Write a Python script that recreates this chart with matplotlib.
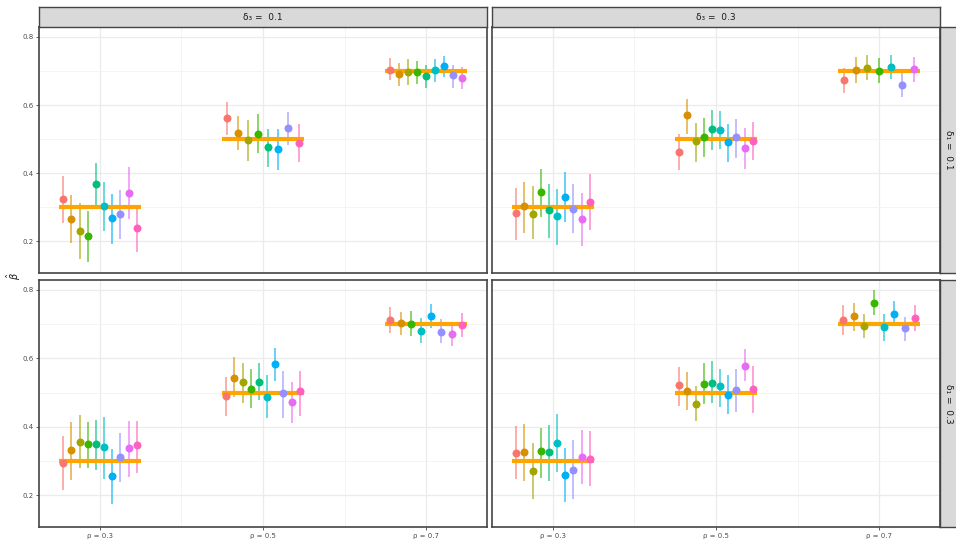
import numpy as np
import matplotlib
matplotlib.use("Agg")
import matplotlib.pyplot as plt
from matplotlib.ticker import FixedLocator

nan = np.nan

# ---------------- data ----------------
rho_labels = ["ρ = 0.3", "ρ = 0.5", "ρ = 0.7"]
true_values = [0.3, 0.5, 0.7]
delta3_labels = ["δ₃ =  0.1", "δ₃ =  0.3"]
delta1_labels = ["δ₁ =  0.1", "δ₁ =  0.3"]
group_colors = ["#F8766D", "#D89000", "#A3A500", "#39B600", "#00BF7D",
                "#00BFC4", "#00B0F6", "#9590FF", "#E76BF3", "#FF62BC"]

# panel delta1 = 0.1, delta3 = 0.1
est_11 = [[0.324, 0.266, 0.229, 0.216, 0.367, 0.304, 0.269, 0.280, 0.343, 0.238],
          [0.562, 0.519, 0.497, 0.515, 0.478, nan, 0.470, 0.534, nan, 0.488],
          [0.703, 0.691, 0.698, 0.696, 0.685, 0.703, 0.714, 0.687, 0.679, nan]]
lo_11 = [[0.254, 0.194, 0.148, 0.139, 0.300, 0.229, 0.192, 0.207, 0.265, 0.170],
         [0.511, 0.467, 0.436, 0.460, 0.418, nan, 0.410, 0.482, nan, 0.433],
         [0.672, 0.657, 0.660, 0.662, 0.651, 0.667, 0.683, 0.651, 0.646, nan]]
hi_11 = [[0.392, 0.336, 0.312, 0.290, 0.431, 0.374, 0.338, 0.351, 0.418, 0.306],
         [0.609, 0.569, 0.557, 0.573, 0.529, nan, 0.531, 0.580, nan, 0.545],
         [0.737, 0.722, 0.734, 0.728, 0.718, 0.736, 0.745, 0.718, 0.711, nan]]

# panel delta1 = 0.1, delta3 = 0.3
est_13 = [[0.283, 0.303, 0.281, 0.344, 0.291, 0.273, 0.330, 0.294, 0.265, 0.316],
          [0.463, 0.570, 0.494, 0.505, 0.529, 0.526, 0.492, 0.505, 0.473, 0.494],
          [0.672, 0.703, 0.709, 0.701, nan, 0.711, nan, 0.660, 0.707, nan]]
lo_13 = [[0.205, 0.223, 0.207, 0.270, 0.211, 0.190, 0.256, 0.223, 0.187, 0.234],
         [0.408, 0.516, 0.434, 0.447, 0.467, 0.470, 0.433, 0.444, 0.413, 0.440],
         [0.634, 0.666, 0.672, 0.664, nan, 0.677, nan, 0.625, 0.669, nan]]
hi_13 = [[0.357, 0.374, 0.361, 0.412, 0.367, 0.355, 0.402, 0.368, 0.341, 0.399],
         [0.516, 0.619, 0.546, 0.562, 0.586, 0.581, 0.545, 0.558, 0.534, 0.549],
         [0.709, 0.741, 0.747, 0.739, nan, 0.747, nan, 0.696, 0.741, nan]]

# panel delta1 = 0.3, delta3 = 0.1
est_31 = [[0.294, 0.331, 0.356, 0.349, 0.349, 0.342, 0.256, 0.311, 0.337, 0.346],
          [0.490, 0.544, 0.531, 0.509, 0.532, 0.488, 0.584, 0.498, 0.473, 0.505],
          [0.712, 0.702, nan, 0.701, nan, 0.681, 0.724, 0.677, 0.671, 0.697]]
lo_31 = [[0.214, 0.243, 0.280, 0.280, 0.274, 0.248, 0.175, 0.239, 0.254, 0.266],
         [0.431, 0.486, 0.470, 0.454, 0.479, 0.426, 0.535, 0.426, 0.411, 0.431],
         [0.675, 0.669, nan, 0.665, nan, 0.646, 0.688, 0.644, 0.636, 0.662]]
hi_31 = [[0.372, 0.415, 0.433, 0.415, 0.421, 0.428, 0.335, 0.382, 0.416, 0.416],
         [0.546, 0.603, 0.586, 0.569, 0.585, 0.550, 0.629, 0.564, 0.531, 0.564],
         [0.750, 0.736, nan, 0.738, nan, 0.718, 0.758, 0.714, 0.704, 0.734]]

# panel delta1 = 0.3, delta3 = 0.3
est_33 = [[0.322, 0.327, 0.272, 0.328, 0.326, 0.353, 0.258, 0.274, 0.312, 0.307],
          [0.521, 0.506, 0.467, 0.526, 0.528, 0.518, 0.494, 0.507, 0.579, 0.510],
          [0.713, 0.723, 0.696, 0.763, nan, 0.691, 0.731, 0.688, nan, 0.718]]
lo_33 = [[0.247, 0.241, 0.189, 0.249, 0.241, 0.269, 0.179, 0.188, 0.232, 0.227],
         [0.461, 0.450, 0.416, 0.466, 0.469, 0.459, 0.437, 0.444, 0.533, 0.440],
         [0.669, 0.681, 0.660, 0.728, nan, 0.650, 0.694, 0.652, nan, 0.681]]
hi_33 = [[0.401, 0.409, 0.354, 0.397, 0.406, 0.437, 0.339, 0.361, 0.392, 0.387],
         [0.575, 0.561, 0.518, 0.586, 0.591, 0.570, 0.550, 0.569, 0.627, 0.579],
         [0.755, 0.762, 0.730, 0.799, nan, 0.731, 0.768, 0.721, nan, 0.755]]

panels = {(0, 0): (est_11, lo_11, hi_11), (0, 1): (est_13, lo_13, hi_13),
          (1, 0): (est_31, lo_31, hi_31), (1, 1): (est_33, lo_33, hi_33)}

# ---------------- figure ----------------
W, H = 956, 541
fig = plt.figure(figsize=(W / 100, H / 100), dpi=100)

def frac(x0, y0, x1, y1):
    return [x0 / W, 1 - y1 / H, (x1 - x0) / W, (y1 - y0) / H]

col_x = [(39, 487), (492, 940)]
row_y = [(27, 273), (280, 527)]
border_col = "#444444"
dodge_width = 0.5

for (r, c), (est, lo, hi) in panels.items():
    x0, x1 = col_x[c]
    y0, y1 = row_y[r]
    ax = fig.add_axes(frac(x0, y0, x1, y1))
    ax.set_xlim(0.626, 3.374)
    ax.set_ylim(0.107, 0.829)
    ax.set_facecolor("white")
    ax.set_axisbelow(True)
    ax.xaxis.set_major_locator(FixedLocator([1, 2, 3]))
    ax.xaxis.set_minor_locator(FixedLocator([1.5, 2.5]))
    ax.yaxis.set_major_locator(FixedLocator([0.2, 0.4, 0.6, 0.8]))
    ax.yaxis.set_minor_locator(FixedLocator([0.3, 0.5, 0.7]))
    ax.grid(which="major", color="#EBEBEB", lw=0.9)
    ax.grid(which="minor", color="#F2F2F2", lw=0.6)
    for s in ax.spines.values():
        s.set_color(border_col)
        s.set_linewidth(1.2)
    ax.tick_params(which="minor", length=0)
    ax.tick_params(which="major", length=2.5, width=0.6, color=border_col,
                   labelsize=5, labelcolor="#4D4D4D", pad=1.5)
    if c == 0:
        ax.set_yticklabels(["0.2", "0.4", "0.6", "0.8"])
    else:
        ax.tick_params(axis="y", length=0, labelleft=False)
    if r == 1:
        ax.set_xticklabels(rho_labels)
    else:
        ax.tick_params(axis="x", length=0, labelbottom=False)

    for k in range(3):
        xc = k + 1
        e = np.array(est[k], dtype=float)
        l = np.array(lo[k], dtype=float)
        h = np.array(hi[k], dtype=float)
        present = [g for g in range(len(e)) if not np.isnan(e[g])]
        n = len(present)
        for j, g in enumerate(present):
            xx = xc + (j - (n - 1) / 2) * dodge_width / n
            ax.plot([xx, xx], [l[g], h[g]], color=group_colors[g], lw=1.1,
                    alpha=0.75, solid_capstyle="butt", zorder=2)
        ax.plot([xc - 0.25, xc + 0.25], [true_values[k]] * 2, color="#FFA500",
                lw=3.0, solid_capstyle="butt", zorder=3)
        for j, g in enumerate(present):
            xx = xc + (j - (n - 1) / 2) * dodge_width / n
            ax.scatter([xx], [e[g]], s=33, color=group_colors[g], zorder=4,
                       linewidths=0)

    # top strips
    if r == 0:
        sax = fig.add_axes(frac(x0, 7, x1, 27))
        sax.set_facecolor("#D9D9D9")
        sax.set_xticks([]); sax.set_yticks([])
        for s in sax.spines.values():
            s.set_color(border_col); s.set_linewidth(1.0)
        sax.text(0.5, 0.5, delta3_labels[c], ha="center", va="center",
                 fontsize=6.5, color="#1A1A1A", transform=sax.transAxes)
    # right strips
    if c == 1:
        sax = fig.add_axes(frac(940, y0, 958, y1))
        sax.set_facecolor("#D9D9D9")
        sax.set_xticks([]); sax.set_yticks([])
        for s in sax.spines.values():
            s.set_color(border_col); s.set_linewidth(1.0)
        sax.text(8.5 / 18, 0.5, delta1_labels[r], ha="center", va="center",
                 fontsize=6.5, color="#1A1A1A", rotation=-90,
                 transform=sax.transAxes)

fig.text(14 / W, 1 - 276 / H, r"$\hat{\beta}$", rotation=90, ha="center",
         va="center", fontsize=7, color="#1A1A1A")

fig.savefig("out.png", dpi=100, facecolor="white")
